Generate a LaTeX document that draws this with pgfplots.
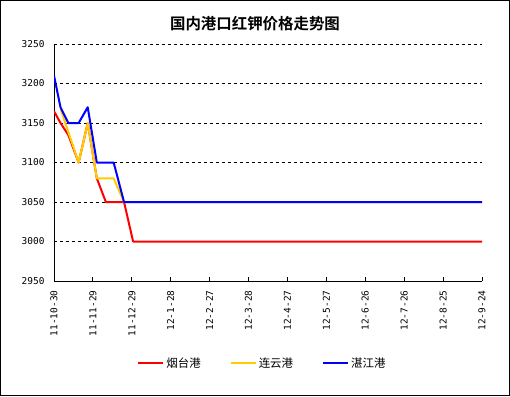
\documentclass[border=0pt]{standalone}
\usepackage{fontspec}
\setmainfont{DejaVu Sans}
\setmonofont{DejaVu Sans Mono}
\newfontfamily\cjk{Noto Sans CJK SC}[BoldFont={Noto Sans CJK SC Bold}]
\usepackage{pgfplots}
\pgfplotsset{compat=1.18}
\definecolor{cred}{RGB}{255,0,0}
\definecolor{cyel}{RGB}{255,204,0}
\definecolor{cblue}{RGB}{0,0,255}
\begin{document}
\begin{tikzpicture}[x=1bp,y=1bp]
\useasboundingbox (0,0) rectangle (510,-396);
\draw[line width=1bp] (0.5,-0.5) rectangle (509.5,-395.5);
\node[font=\cjk\bfseries\fontsize{15.5}{18}\selectfont] at (255,-24) {国内港口红钾价格走势图};
\begin{axis}[at={(54bp,-281bp)}, anchor=south west, scale only axis,
  width=428bp, height=237bp,
  xmin=0, xmax=330, ymin=2950, ymax=3250,
  xtick={0,30,...,330},
  xticklabels={11-10-30,11-11-29,11-12-29,12-1-28,12-2-27,12-3-28,12-4-27,12-5-27,12-6-26,12-7-26,12-8-25,12-9-24},
  x tick label style={rotate=90, anchor=east, font=\ttfamily\fontsize{9.5}{10}\selectfont},
  xticklabel shift=6bp,
  ytick={2950,3000,...,3250},
  y tick label style={font=\ttfamily\fontsize{9.5}{10}\selectfont},
  yticklabel shift=6bp,
  /pgf/number format/assume math mode=true,
  /pgf/number format/set thousands separator={},
  axis x line*=bottom, axis y line*=left,
  axis line style={-, line width=1bp, black},
  ymajorgrids,
  grid style={dash pattern=on 3bp off 3bp, black, line width=0.8bp},
  ytick style={draw=none},
  xtick style={black, line width=1bp},
  tick align=inside, major tick length=4bp,
  legend style={draw=none, at={(0.487,-0.346)}, anchor=center, legend columns=3,
    font=\cjk\fontsize{11.5}{13}\selectfont,
    /tikz/every even column/.append style={column sep=27bp}},
  legend image code/.code={\draw[#1] (0bp,0bp) -- (25bp,0bp);},
]
\addplot[cred, line width=2bp, line join=round] coordinates {
(0,3165) (5,3150) (11,3135) (19,3100) (26,3150) (33,3080) (40,3050) (54,3050) (61,3000) (330,3000)};
\addlegendentry{烟台港}
\addplot[cyel, line width=2bp, line join=round] coordinates {
(5,3168) (19,3100) (26,3150) (33,3080) (46,3080) (54,3050) (330,3050)};
\addlegendentry{连云港}
\addplot[cblue, line width=2bp, line join=round] coordinates {
(0,3210) (5,3170) (11,3150) (19,3150) (26,3170) (33,3100) (46,3100) (54,3050) (330,3050)};
\addlegendentry{湛江港}
\end{axis}
\end{tikzpicture}
\end{document}
